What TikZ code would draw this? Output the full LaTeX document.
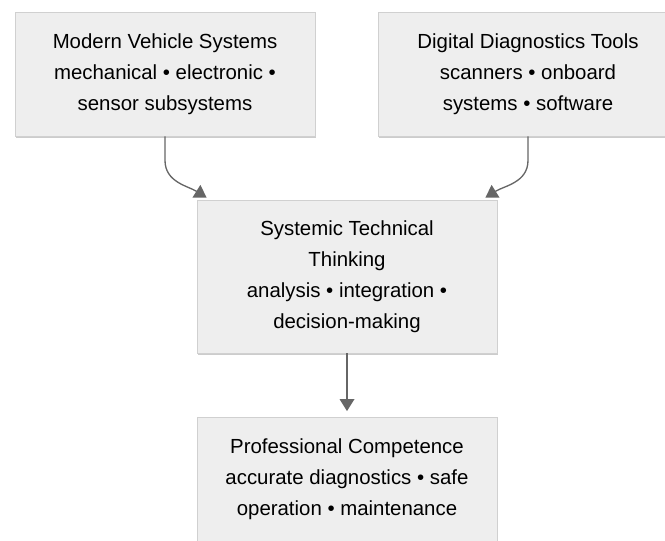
\documentclass[tikz,border=0pt]{standalone}
\usepackage{fontspec}
\setmainfont{Liberation Sans}
\usepackage{xcolor}
\usepackage{tikz}
\usetikzlibrary{positioning,calc,arrows.meta,shadows}

\definecolor{boxfill}{HTML}{EEEEEE}
\definecolor{boxline}{HTML}{D0D0D0}
\definecolor{arrowgray}{HTML}{666666}

\begin{document}
\begin{tikzpicture}[x=0.75pt,y=-0.75pt,
    block/.style={rectangle, draw=boxline, fill=boxfill, line width=0.6pt, align=center,
        font=\fontsize{15.3}{23.25}\selectfont, minimum width=225pt, minimum height=93pt, inner sep=0pt,
        drop shadow={shadow xshift=1pt, shadow yshift=-1.5pt, fill=black, opacity=0.2}},
    link/.style={draw=arrowgray, line width=1pt, -{Triangle[length=9pt,width=11pt]}}]
    \useasboundingbox (0,0) rectangle (665,541);

    % Inputs
    \node[block] (vehicle) at (165,74) {Modern Vehicle Systems\\mechanical • electronic •\\sensor subsystems};
    \node[block] (tools) at (528,74) {Digital Diagnostics Tools\\scanners • onboard\\systems • software};

    % Thinking
    \node[block, minimum height=114.75pt] (thinking) at (347,276.5) {Systemic Technical\\Thinking\\analysis • integration •\\decision-making};

    % Outcome
    \node[block] (competence) at (347,479.5) {Professional Competence\\accurate diagnostics • safe\\operation • maintenance};

    \draw[link] (vehicle.south) -- ++(0,24) to[out=-90,in=148] ([xshift=7.5pt,yshift=1.5pt]thinking.north west);
    \draw[link] (tools.south) -- ++(0,24) to[out=-90,in=32] ([xshift=-9pt,yshift=1.5pt]thinking.north east);
    \draw[link] (thinking.south) -- ([yshift=4.5pt]competence.north);
\end{tikzpicture}
\end{document}
